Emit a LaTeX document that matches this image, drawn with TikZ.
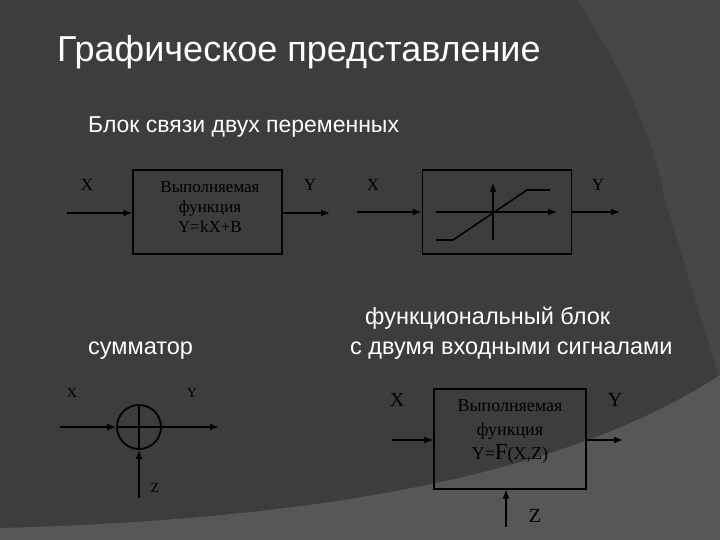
\documentclass[tikz,border=0pt]{standalone}
\usepackage{fontspec}
\setmainfont{Liberation Serif}
\newfontfamily\arial{Liberation Sans}
\usetikzlibrary{arrows.meta}
\begin{document}
\begin{tikzpicture}[x=1pt,y=-1pt,
  wire/.style={line width=1.4pt,-{Latex[length=9pt,width=7pt]}},
  blk/.style={draw,line width=1.5pt,minimum width=149pt,minimum height=84pt,inner sep=0pt},
  lbl/.style={font=\fontsize{17}{19}\selectfont,text=black,inner sep=0pt},
  btxt/.style={font=\fontsize{17}{20}\selectfont,text=black,align=center},
  ttl/.style={text=white,font=\arial\fontsize{23.5}{28}\selectfont,anchor=base west,inner sep=0pt}]
\fill[black!76] (0,0) rectangle (720,540);
\useasboundingbox (0,0) rectangle (720,540);
\fill[black!72] (577,0) .. controls (610,50) and (650,120) .. (665,200) -- (720,380) -- (720,0) -- cycle;
\fill[black!66] (0,528) .. controls (300,520) and (560,480) .. (720,375) -- (720,540) -- (0,540) -- cycle;
\node[ttl,font=\arial\fontsize{36}{40}\selectfont] (t) at (57,62) {Графическое представление};
\node[ttl,font=\arial\fontsize{23}{28}\selectfont] (t2) at (88,133) {Блок связи двух переменных};
\node[ttl] (t3) at (88,354) {сумматор};
\node[ttl] (t4) at (365,324) {функциональный блок};
\node[ttl] (t5) at (350,354) {с двумя входными сигналами};
% block 1
\node[blk] (b1) at (207.5,212) {};
\node[btxt] (b1t) at (210,207) {Выполняемая\\функция\\Y=kX+B};
\coordinate (i1) at (67,213); \coordinate (o1) at (330,213);
\draw[wire] (i1) -- (i1-|b1.west);
\draw[wire] (o1-|b1.east) -- (o1);
\node[lbl] (x1) at (87,185) {X};
\node[lbl] (y1) at (310,185) {Y};
% block 2
\node[blk] (b2) at (497,212) {};
\coordinate (i2) at (357,212); \coordinate (o2) at (620,212);
\draw[wire] (i2) -- (i2-|b2.west);
\draw[wire] (o2-|b2.east) -- (o2);
\node[lbl] (x2) at (373,185) {X};
\node[lbl] (y2) at (598,185) {Y};
\coordinate (ax0) at (436,212); \coordinate (ax1) at (557,212);
\coordinate (ay0) at (493,240); \coordinate (ay1) at (493,183);
\draw[wire,line width=1.2pt] (ax0) -- (ax1);
\draw[wire,line width=1.2pt] (ay0) -- (ay1);
\draw[line width=1.6pt] (436,240) -- (453,240) -- (527,190) -- (550,190);
% summator
\node[draw,circle,line width=1.8pt,minimum size=44pt,inner sep=0pt] (s) at (139,427) {};
\draw[line width=1.5pt] (s.north) -- (s.south) (s.west) -- (s.east);
\coordinate (si) at (60,427); \coordinate (so) at (219,427); \coordinate (sz) at (139,498);
\draw[wire] (si) -- (s.west);
\draw[wire] (s.east) -- (so);
\draw[wire] (sz) -- (s.south);
\node[lbl,font=\fontsize{14}{16}\selectfont] (xs) at (72,393) {X};
\node[lbl,font=\fontsize{14}{16}\selectfont] (ys) at (192,393) {Y};
\node[lbl,font=\fontsize{14}{16}\selectfont] (zs) at (155,488) {Z};
% block 3
\node[blk,line width=1.2pt,minimum width=152pt,minimum height=100pt] (b3) at (510,439) {};
\node[btxt,font=\fontsize{18}{24}\selectfont] (b3t) at (510,432) {Выполняемая\\функция\\Y=\fontsize{23}{24}\selectfont F\fontsize{18}{24}\selectfont(X,Z)};
\coordinate (i3) at (392,440); \coordinate (o3) at (623,440); \coordinate (z3) at (506,527);
\draw[wire] (i3) -- (i3-|b3.west);
\draw[wire] (o3-|b3.east) -- (o3);
\draw[wire] (z3) -- (z3|-b3.south);
\node[lbl,font=\fontsize{20}{22}\selectfont] (x3) at (397,400) {X};
\node[lbl,font=\fontsize{20}{22}\selectfont] (y3) at (615,400) {Y};
\node[lbl,font=\fontsize{20}{22}\selectfont] (z3l) at (535,516) {Z};
\end{tikzpicture}
\end{document}
